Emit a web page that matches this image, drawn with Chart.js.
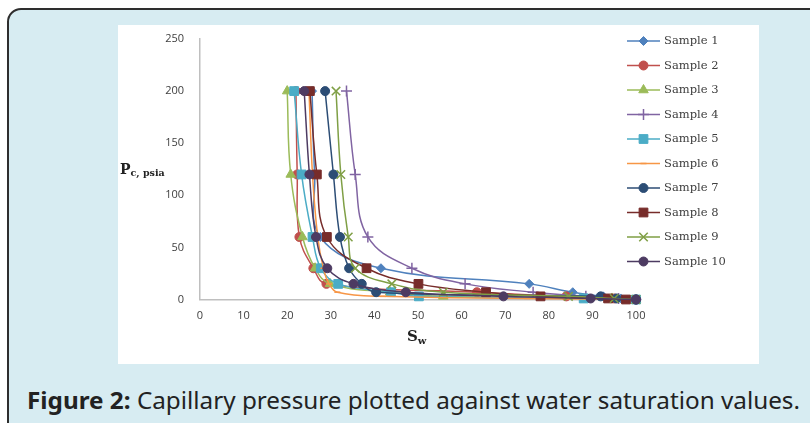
<!DOCTYPE html>
<html>
<head>
<meta charset="utf-8">
<script src="https://cdn.jsdelivr.net/npm/chart.js@4.4.1/dist/chart.umd.min.js"></script>
<style>
  html, body { margin: 0; padding: 0; background: #ffffff; }
  body { width: 810px; height: 423px; position: relative; overflow: hidden; }
  #frame { position: absolute; left: 7px; top: 8px; width: 900px; height: 500px;
           border: 2px solid #2e2e2e; border-top-left-radius: 14px; background: #d7ecf2; }
  #panel { position: absolute; left: 118px; top: 25px; width: 641px; height: 339px; background: #ffffff; }
  #chart { position: absolute; left: 0; top: 0; }
  .ytitle { position: absolute; left: 120px; top: 161px; font-family: "DejaVu Serif", serif; font-weight: bold; font-size: 14px; color: #222; white-space: nowrap; }
  .ytitle sub { font-size: 9.5px; vertical-align: -2px; }
  .xtitle { position: absolute; left: 407px; top: 327px; font-family: "DejaVu Serif", serif; font-weight: bold; font-size: 15px; color: #222; white-space: nowrap; }
  .xtitle sub { font-size: 10px; vertical-align: -3px; }
  #caption { position: absolute; left: 27px; top: 383px; font-family: "Noto Sans", sans-serif; font-size: 24px; color: #222; white-space: nowrap; transform-origin: 0 0; }
  #caption b { font-weight: bold; }
</style>
</head>
<body>
<div id="frame"></div>
<div id="panel"><canvas id="chart" width="641" height="339"></canvas></div>
<div class="ytitle">P<sub>c, psia</sub></div>
<div class="xtitle">S<sub>w</sub></div>
<div id="caption"><b>Figure 2:</b> Capillary pressure plotted against water saturation values.</div>
<script>
// Capillary pressure levels (psia)
const pcLevels = [200, 120, 60, 30, 15, 7, 3, 1, 0];
// Water saturation (%) per sample at each pressure level
const sample1  = [25.7, 26.3, 27.6, 41.5, 75.5, 85.5, 92.5, 96.5, 100];
const sample2  = [22.0, 22.3, 22.8, 26.0, 29.0, 63.5, 84.0, 95.0, 100];
const sample3  = [20.0, 20.8, 23.5, 26.4, 29.8, 43.6, 55.8, 94.5, 100];
const sample4  = [33.6, 35.6, 38.5, 48.6, 60.8, 76.4, 88.5, 96.0, 100];
const sample5  = [21.6, 23.3, 25.8, 27.7, 31.7, 43.8, 50.2, 88.0, 100];
const sample6  = [25.0, 25.8, 27.0, 28.3, 29.6, 31.5, 42.0, 75.0, 100];
const sample7  = [28.7, 30.6, 32.1, 34.2, 37.1, 40.4, 91.9, 95.5, 100];
const sample8  = [25.2, 26.8, 29.1, 38.2, 50.1, 65.6, 78.1, 93.6, 97.7];
const sample9  = [31.2, 32.3, 34.0, 35.6, 44.0, 55.8, 84.5, 95.0, 100];
const sample10 = [23.9, 25.1, 26.6, 29.2, 35.2, 47.2, 69.6, 89.6, 100];

const seriesNames = ["Sample 1","Sample 2","Sample 3","Sample 4","Sample 5","Sample 6","Sample 7","Sample 8","Sample 9","Sample 10"];
const seriesValues = [sample1, sample2, sample3, sample4, sample5, sample6, sample7, sample8, sample9, sample10];
const xTicks = [0,10,20,30,40,50,60,70,80,90,100];
const yTicks = [0,50,100,150,200,250];

const colors = ["#4F81BD","#C0504D","#9BBB59","#8064A2","#4BACC6","#F79646","#2C4D75","#772C2A","#7F9F45","#4D3B62"];
const styles = ["rectRot","circle","triangle","cross","rect","line","circle","rect","crossRot","circle"];
const radii  = [4.5, 4.5, 5.5, 5.5, 6.2, 3, 4.5, 6.2, 6, 4.5];

const datasets = seriesValues.map((vals, i) => ({
  label: seriesNames[i],
  data: vals.map((sw, k) => ({ x: sw, y: pcLevels[k] })),
  order: seriesValues.length - i,
  showLine: true,
  borderColor: colors[i],
  backgroundColor: colors[i],
  borderWidth: 1.5,
  tension: 0.4,
  pointStyle: styles[i],
  pointRadius: radii[i],
  pointBorderWidth: (styles[i] === "cross" || styles[i] === "crossRot" || styles[i] === "line") ? 1.5 : 1,
  pointBackgroundColor: colors[i],
  pointBorderColor: colors[i],
  clip: false
}));

const legendPlugin = {
  id: "excelLegend",
  afterDraw(chart) {
    const ctx = chart.ctx;
    const x0 = 509, x1 = 542, xm = 525.5, xt = 546;
    const yStart = 16, step = 24.5;
    chart.data.datasets.forEach((ds, i) => {
      const y = yStart + i * step;
      ctx.save();
      ctx.strokeStyle = ds.borderColor;
      ctx.fillStyle = ds.backgroundColor;
      ctx.lineWidth = 1.5;
      ctx.beginPath(); ctx.moveTo(x0, y); ctx.lineTo(x1, y); ctx.stroke();
      ctx.lineWidth = ds.pointBorderWidth;
      Chart.helpers.drawPoint(ctx, { pointStyle: ds.pointStyle, radius: ds.pointRadius, rotation: 0, borderWidth: ds.pointBorderWidth }, xm, y);
      ctx.fillStyle = "#404040";
      ctx.font = "11.5px 'DejaVu Serif', serif";
      ctx.textBaseline = "middle";
      ctx.textAlign = "left";
      ctx.fillText(ds.label, xt, y + 0.5);
      ctx.restore();
    });
  }
};

new Chart(document.getElementById("chart"), {
  type: "scatter",
  data: { datasets },
  options: {
    responsive: false,
    animation: false,
    devicePixelRatio: 1,
    layout: { padding: { left: 0, top: 14, right: 123, bottom: 0 } },
    plugins: { legend: { display: false }, tooltip: { enabled: false } },
    scales: {
      x: {
        type: "linear", min: 0, max: 100,
        afterFit: s => { s.height = 64.5; },
        afterBuildTicks: s => { s.ticks = xTicks.map(v => ({ value: v })); },
        grid: { display: false, drawTicks: false },
        border: { display: true, color: "#bfbfbf", width: 1.5 },
        ticks: { padding: 10, color: "#404040", font: { family: "'Open Sans', sans-serif", size: 11 } }
      },
      y: {
        type: "linear", min: 0, max: 250,
        afterFit: s => { s.width = 82; s.paddingTop = 0; s.paddingBottom = 0; },
        afterBuildTicks: s => { s.ticks = yTicks.map(v => ({ value: v })); },
        grid: { display: false, drawTicks: false },
        border: { display: true, color: "#bfbfbf", width: 1.5 },
        ticks: { padding: 16, color: "#404040", font: { family: "'Open Sans', sans-serif", size: 11 } }
      }
    }
  },
  plugins: [legendPlugin]
});

// Fit caption width to the reference span
const cap = document.getElementById("caption");
const w = cap.getBoundingClientRect().width;
cap.style.transform = "scaleX(" + (773 / w) + ")";
</script>
</body>
</html>
